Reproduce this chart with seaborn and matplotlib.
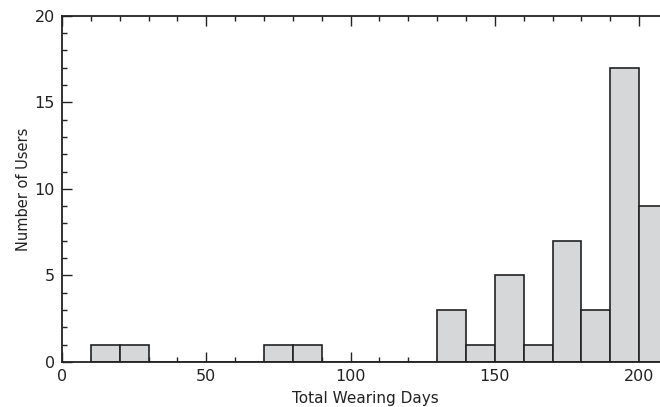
import matplotlib
matplotlib.use("Agg")
import matplotlib.pyplot as plt
from matplotlib.ticker import MultipleLocator
import numpy as np
import pandas as pd
import seaborn as sns

# Histogram bins (days) and user counts per bin
bin_starts = [10, 20, 30, 40, 50, 60, 70, 80, 90, 100, 110, 120,
              130, 140, 150, 160, 170, 180, 190, 200]
user_counts = [1, 1, 0, 0, 0, 0, 1, 1, 0, 0, 0, 0,
               3, 1, 5, 1, 7, 3, 17, 9]
bin_width = 10

x_ticks = [0, 50, 100, 150, 200]
y_ticks = [0, 5, 10, 15, 20]

sns.set_theme(style="white")
plt.rcParams["font.family"] = ["DejaVu Sans"]

df = pd.DataFrame({
    "day": np.array(bin_starts) + bin_width / 2,
    "users": user_counts,
})
edges = list(bin_starts) + [bin_starts[-1] + bin_width]

fig = plt.figure(figsize=(6.6, 4.07), dpi=100)
ax = fig.add_axes([0.094, 0.111, 0.918, 0.85])

sns.histplot(data=df, x="day", weights="users", bins=edges, ax=ax,
             color="#d6d7d9", edgecolor="#222222", linewidth=1.2, alpha=1.0)

ax.set_xlim(0, 210)
ax.set_ylim(0, 20)
ax.set_xticks(x_ticks)
ax.set_yticks(y_ticks)
ax.xaxis.set_minor_locator(MultipleLocator(10))
ax.yaxis.set_minor_locator(MultipleLocator(1))
ax.tick_params(which="both", direction="in", bottom=True, left=True,
               top=True, right=False,
               colors="#222222", labelsize=11.5, labelcolor="#222222")
ax.tick_params(which="major", length=7, width=1.0, pad=5)
ax.tick_params(which="minor", length=3.5, width=1.0)

for side in ["left", "bottom", "top", "right"]:
    ax.spines[side].set_visible(True)
    ax.spines[side].set_color("#222222")
    ax.spines[side].set_linewidth(1.3)

ax.set_xlabel("Total Wearing Days", fontsize=11, color="#222222", labelpad=5)
ax.set_ylabel("Number of Users", fontsize=10.5, color="#222222", labelpad=3)

fig.savefig("out.png", dpi=100)
